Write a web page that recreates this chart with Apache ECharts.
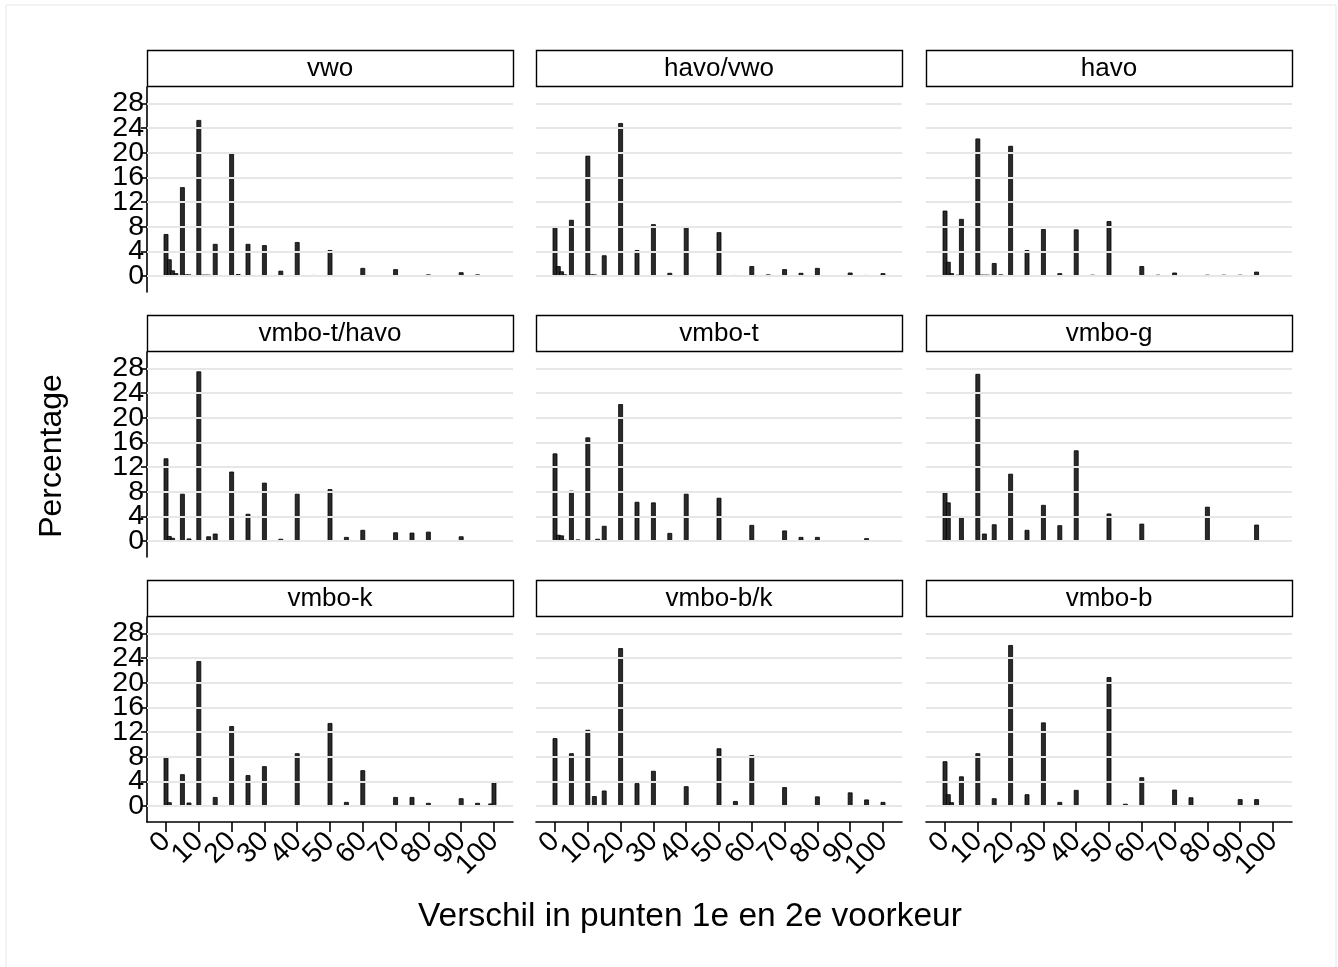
<!DOCTYPE html>
<html>
<head>
<meta charset="utf-8">
<script src="https://cdn.jsdelivr.net/npm/echarts@6/dist/echarts.min.js"></script>
<style>
html,body{margin:0;padding:0;background:#fff;}
#c{width:1338px;height:967px;}
</style>
</head>
<body>
<div id="c"></div>
<script>
// Panel titles
const panelTitles = ['vwo','havo/vwo','havo','vmbo-t/havo','vmbo-t','vmbo-g','vmbo-k','vmbo-b/k','vmbo-b'];
// Tick labels (split in two alternating sets so ECharts does not drop overlapping neighbours)
const yTicks = [0,4,8,12,16,20,24,28];
const yTicksA = [0,8,16,24];
const yTicksB = [4,12,20,28];
const xTicksA = [0,20,40,60,80,100];
const xTicksB = [10,30,50,70,90];
const yTitle = 'Percentage';
const xTitle = 'Verschil in punten 1e en 2e voorkeur';

// Data: [points difference, percentage]
const vwo = [[0,6.8],[1,2.7],[2,0.9],[3,0.45],[5,14.4],[6,0.25],[7,0.25],[10,25.3],[11,0.2],[12,0.2],[13,0.2],[15,5.2],[20,19.9],[22,0.3],[25,5.2],[30,5.0],[35,0.85],[40,5.5],[45,0.15],[50,4.2],[60,1.3],[70,1.1],[80,0.25],[90,0.6],[95,0.25]];
const havoVwo = [[0,8.05],[1,1.6],[2,0.75],[3,0.25],[5,9.1],[7,0.15],[10,19.5],[11,0.25],[12,0.25],[15,3.35],[20,24.8],[25,4.2],[30,8.4],[35,0.5],[40,7.95],[50,7.1],[55,0.15],[60,1.6],[65,0.25],[70,1.1],[75,0.5],[80,1.3],[90,0.55],[95,0.15],[100,0.45]];
const havo = [[0,10.6],[1,2.3],[2,0.45],[4,0.2],[5,9.25],[10,22.3],[11,0.2],[12,0.2],[13,0.2],[15,2.1],[17,0.25],[20,21.1],[25,4.2],[30,7.6],[35,0.45],[40,7.55],[45,0.2],[50,8.9],[60,1.6],[65,0.2],[70,0.55],[80,0.2],[85,0.2],[90,0.2],[95,0.7]];
const vmboTHavo = [[0,13.4],[1,0.8],[2,0.5],[5,7.65],[7,0.4],[10,27.5],[13,0.75],[15,1.2],[20,11.25],[25,4.4],[30,9.45],[35,0.35],[40,7.65],[50,8.4],[55,0.65],[60,1.8],[70,1.4],[75,1.35],[80,1.5],[90,0.75]];
const vmboT = [[0,14.2],[1,1.0],[2,0.9],[3,0.2],[5,8.15],[7,0.25],[10,16.8],[13,0.35],[15,2.45],[20,22.2],[25,6.35],[30,6.25],[35,1.3],[40,7.65],[50,7.0],[60,2.6],[70,1.7],[75,0.65],[80,0.65],[95,0.45]];
const vmboG = [[0,8.05],[1,6.25],[5,3.9],[10,27.1],[12,1.2],[15,2.7],[20,10.9],[25,1.8],[30,5.85],[35,2.55],[40,14.7],[50,4.45],[60,2.8],[80,5.55],[95,2.65]];
const vmboK = [[0,8.05],[1,0.6],[5,5.15],[7,0.55],[10,23.5],[15,1.45],[20,12.95],[25,5.0],[30,6.45],[40,8.55],[50,13.45],[55,0.65],[60,5.8],[70,1.45],[75,1.45],[80,0.5],[90,1.25],[95,0.5],[99,0.4],[100,3.85]];
const vmboBK = [[0,11.0],[5,8.55],[10,12.35],[12,1.6],[15,2.5],[20,25.6],[25,3.7],[30,5.7],[40,3.2],[50,9.35],[55,0.8],[60,8.25],[70,3.05],[80,1.55],[90,2.2],[95,1.05],[100,0.65]];
const vmboB = [[0,7.25],[1,1.9],[2,0.6],[5,4.8],[10,8.55],[15,1.25],[20,26.1],[25,1.9],[30,13.55],[35,0.65],[40,2.6],[50,20.9],[55,0.35],[60,4.65],[70,2.65],[75,1.4],[90,1.1],[95,1.1]];

const panelData = [vwo, havoVwo, havo, vmboTHavo, vmboT, vmboG, vmboK, vmboBK, vmboB];

// Layout
const colLeft = [147, 536, 926];
const rowTop = [87, 352, 617];
const plotW = 366, plotH = 205, headerH = 37;
const yMin = -2.6, yMax = 30.65, xMin = -5.8, xMax = 105.8;
const FONT = '"Liberation Sans", Arial, sans-serif';

const grids = [], xAxes = [], yAxes = [], series = [], graphics = [];

graphics.push({type:'rect', shape:{x:6,y:5,width:1330,height:975}, style:{fill:'none', stroke:'#e6e6e6', lineWidth:1}, z:0, silent:true});

function xAxisDef(i, show, vals, lineShow) {
  return {
    type:'value', gridIndex:i, min:xMin, max:xMax, position:'bottom',
    axisLine:{show:lineShow, onZero:false, lineStyle:{color:'#000', width:1.6}},
    axisTick:{show:show, length:10, lineStyle:{color:'#000', width:1.6}, customValues: vals},
    axisLabel:{show:show, rotate:45, fontSize:28, color:'#000', fontFamily:FONT, margin:15,
      customValues: vals, showMinLabel:true, showMaxLabel:true},
    splitLine:{show:false}
  };
}
function yAxisDef(i, show, vals, lineShow) {
  return {
    type:'value', gridIndex:i, min:yMin, max:yMax, position:'left',
    axisLine:{show:lineShow, onZero:false, lineStyle:{color:'#000', width:1.6}},
    axisTick:{show:show, length:6, lineStyle:{color:'#000', width:1.6}, customValues: vals},
    axisLabel:{show:show, fontSize:28.5, color:'#000', fontFamily:FONT, margin:3,
      customValues: vals, showMinLabel:true, showMaxLabel:true},
    splitLine:{show:false}
  };
}

panelData.forEach((d, i) => {
  const r = Math.floor(i / 3), c = i % 3;
  const left = colLeft[c], top = rowTop[r];
  grids.push({left: left, top: top, width: plotW, height: plotH, containLabel: false});
  const bottomRow = r === 2, leftCol = c === 0;
  xAxes.push(xAxisDef(i, bottomRow, xTicksA, bottomRow));
  xAxes.push(xAxisDef(i, bottomRow, xTicksB, false));
  yAxes.push(yAxisDef(i, leftCol, yTicksA, leftCol));
  yAxes.push(yAxisDef(i, leftCol, yTicksB, false));
  series.push({
    type:'line', xAxisIndex:2*i, yAxisIndex:2*i, data:[], z:1, silent:true,
    markLine:{silent:true, symbol:['none','none'], label:{show:false},
      lineStyle:{color:'#e7e7e7', width:2, type:'solid'},
      emphasis:{disabled:true},
      data: yTicks.map(v => ({yAxis: v}))}
  });
  series.push({
    type:'bar', xAxisIndex:2*i, yAxisIndex:2*i, data:d, barWidth:4.8, z:3, silent:true,
    itemStyle:{color:'#2a2a2a', borderColor:'#000', borderWidth:0.8}
  });
  // header box
  graphics.push({type:'rect', shape:{x:left+0.5, y:top-headerH+0.5, width:plotW, height:headerH-1},
    style:{fill:'#fff', stroke:'#000', lineWidth:1.4}, z:10, silent:true});
  graphics.push({type:'text', x:left+plotW/2, y:top-headerH/2,
    style:{text:panelTitles[i], font:'26px ' + FONT, fill:'#000', textAlign:'center', textVerticalAlign:'middle'}, z:11, silent:true});
});

graphics.push({type:'text', x:52, y:456, rotation:Math.PI/2,
  style:{text:yTitle, font:'32px ' + FONT, fill:'#000', textAlign:'center', textVerticalAlign:'middle'}, z:11, silent:true});
graphics.push({type:'text', x:690, y:917,
  style:{text:xTitle, font:'33.5px ' + FONT, fill:'#000', textAlign:'center', textVerticalAlign:'middle'}, z:11, silent:true});

const chart = echarts.init(document.getElementById('c'), null, {renderer:'canvas'});
chart.setOption({
  animation:false,
  backgroundColor:'#fff',
  grid:grids, xAxis:xAxes, yAxis:yAxes, series:series, graphic:graphics
});
</script>
</body>
</html>
